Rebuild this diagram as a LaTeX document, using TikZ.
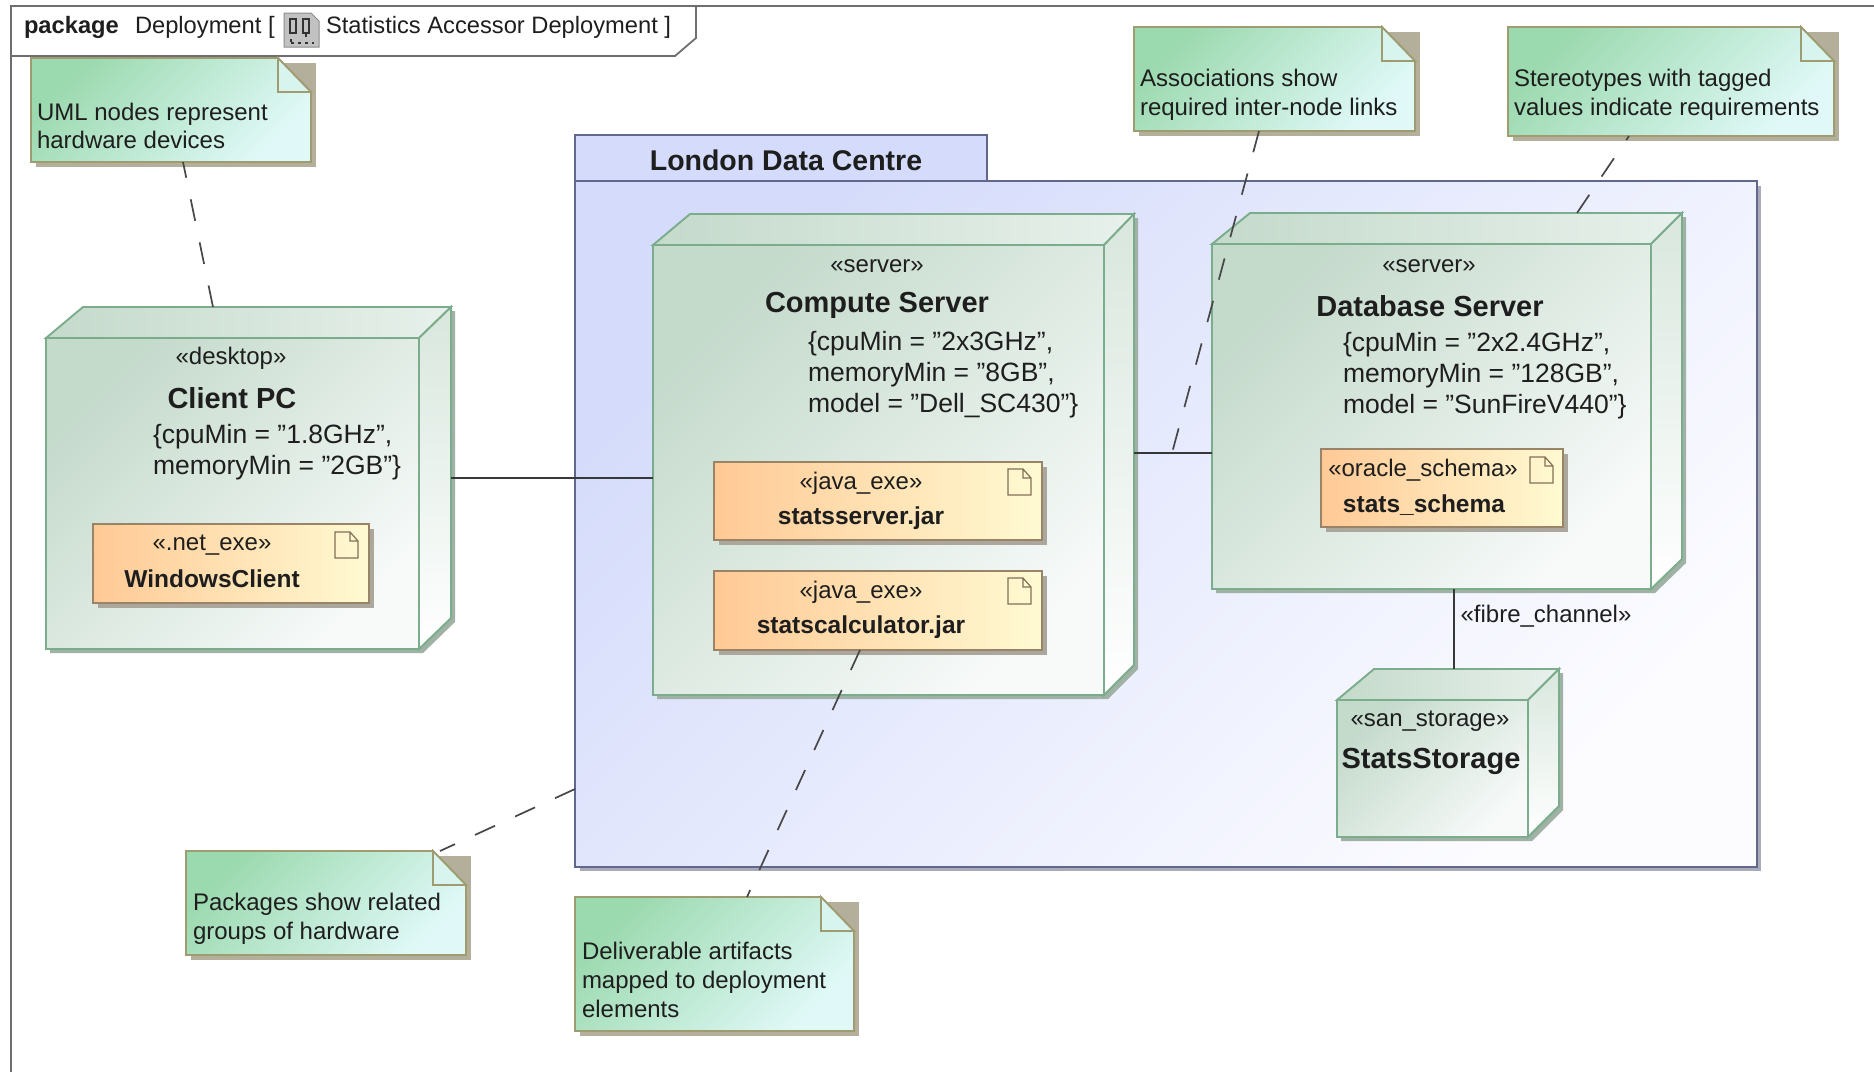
\documentclass[tikz,border=0pt]{standalone}
\usepackage{fontspec}
\setmainfont{Liberation Sans}
\usetikzlibrary{fit}
\definecolor{noteA}{HTML}{9BD9AE}
\definecolor{noteB}{HTML}{E0F9F8}
\definecolor{noteFold}{HTML}{D8F4EF}
\definecolor{noteLine}{HTML}{A09C72}
\definecolor{noteShadow}{HTML}{B4AF9A}
\definecolor{devA}{HTML}{C4DACB}
\definecolor{devB}{HTML}{F7FAF9}
\definecolor{devLine}{HTML}{7BAC8B}
\definecolor{devShadow}{HTML}{9FB2A5}
\definecolor{artA}{HTML}{FFC995}
\definecolor{artB}{HTML}{FFFAD2}
\definecolor{artLine}{HTML}{9A8468}
\definecolor{artShadow}{HTML}{ACA79C}
\definecolor{pkgA}{HTML}{D5DCFB}
\definecolor{pkgB}{HTML}{FCFCFF}
\definecolor{pkgLine}{HTML}{62688C}
\definecolor{pkgShadow}{HTML}{A9ABBB}
\definecolor{frameLine}{HTML}{6E6E6E}
\definecolor{inkC}{HTML}{1E1E1E}
\tikzset{
  framestroke/.style={draw=frameLine,line width=1.8pt},
  assoc/.style={draw=black!78,line width=1.7pt},
  anchorline/.style={draw=black!72,line width=1.7pt,dash pattern=on 22pt off 22pt},
  lbl/.style={inner sep=0pt,outer sep=0pt,text=inkC,align=left},
  notetext/.style={lbl,anchor=west,font=\fontsize{24}{28.6}\selectfont},
  stereo/.style={lbl,font=\fontsize{24}{28}\selectfont},
  tagged/.style={lbl,anchor=west,font=\fontsize{26.5}{31}\selectfont},
  title/.style={lbl,font=\bfseries\fontsize{29}{32}\selectfont},
  artname/.style={lbl,font=\bfseries\fontsize{24.5}{28}\selectfont},
  diag/.style 2 args={top color=#1,bottom color=#2,shading angle=45},
  box/.style={inner sep=0pt,outer sep=0pt,draw=none,fill=none},
}
% name, x1,y1,x2,y2
\newcommand{\notebox}[5]{%
  \fill[noteShadow] (#2+5,#3+5) rectangle (#4+5,#5+5);
  \path[draw=noteLine,line width=1.8pt,diag={noteA}{noteB}]
    (#2,#3) -- (#4-33,#3) -- (#4,#3+34) -- (#4,#5) -- (#2,#5) -- cycle;
  \path[draw=noteLine,line width=1.8pt,fill=noteFold]
    (#4-33,#3) -- (#4-33,#3+34) -- (#4,#3+34) -- cycle;
  \node[box,fit={(#2,#3) (#4,#5)}] (#1) {};
}
% name, front x1,y1,x2,y2, back xleft, ytop, xright, ybottom
\newcommand{\devbox}[9]{%
  \fill[devShadow] (#6+4,#7+4) -- (#8+4,#7+4) -- (#8+4,#9+4) -- (#4+4,#5+4) -- (#2+4,#5+4) -- (#2+4,#3+4) -- cycle;
  \path[draw=devLine,line width=1.9pt,left color=devA,right color=devB!70!devA]
    (#2,#3) -- (#6,#7) -- (#8,#7) -- (#4,#3) -- cycle;
  \path[draw=devLine,line width=1.9pt,top color=devA!60!devB,bottom color=white]
    (#4,#3) -- (#8,#7) -- (#8,#9) -- (#4,#5) -- cycle;
  \path[draw=devLine,line width=1.9pt,diag={devA}{devB}]
    (#2,#3) rectangle (#4,#5);
  \node[box,fit={(#2,#7) (#8,#5)}] (#1) {};
}
% name, x1,y1,x2,y2, icon left, icon top
\newcommand{\artbox}[7]{%
  \fill[artShadow] (#2+5,#3+5) rectangle (#4+5,#5+5);
  \path[draw=artLine,line width=1.7pt,left color=artA,right color=artB]
    (#2,#3) rectangle (#4,#5);
  \draw[draw=artLine!85!black,line width=1.2pt]
    (#6,#7) -- (#6+15,#7) -- (#6+23,#7+9) -- (#6+23,#7+26) -- (#6,#7+26) -- cycle
    (#6+15,#7) -- (#6+15,#7+9) -- (#6+23,#7+9);
  \node[box,fit={(#2,#3) (#4,#5)}] (#1) {};
}
\begin{document}
\begin{tikzpicture}[x=1pt,y=-1pt]
\useasboundingbox (0,0) rectangle (1874,1072);
\fill[white] (0,0) rectangle (1874,1072);
% frame
\draw[framestroke] (1874,6) -- (11,6) -- (11,1072);
\draw[framestroke] (11,56) -- (675,56) -- (696,38) -- (696,6);
\node[lbl,anchor=west,font=\bfseries\fontsize{23.7}{26}\selectfont] (fkw) at (24,27) {package};
\node[lbl,anchor=west,font=\fontsize{23.7}{26}\selectfont] (fkind) at (135,27) {Deployment [};
\node[lbl,anchor=west,font=\fontsize{23.7}{26}\selectfont] (fname) at (326,27) {Statistics Accessor Deployment ]};
% frame icon
\path[fill=black!24,draw=black!45,line width=1pt] (284,13) -- (311,13) -- (319,21) -- (319,47) -- (284,47) -- cycle;
\draw[black!80,line width=1.6pt] (290,19) rectangle (296,33) (303,19) rectangle (309,33) (306,33) -- (306,37);
\draw[black!80,line width=1.6pt,dash pattern=on 3pt off 4pt] (291,43) -- (314,43) (291,39) -- (291,43);
% package
\fill[pkgShadow] (580,186) rectangle (1761,871);
\path[draw=pkgLine,line width=1.8pt,fill=pkgA] (575,181) -- (575,135) -- (987,135) -- (987,181);
\path[draw=pkgLine,line width=1.8pt,diag={pkgA}{pkgB}] (575,181) rectangle (1757,867);
\node[box,fit={(575,135) (1757,867)}] (london) {};
\node[title,font=\bfseries\fontsize{28.5}{32}\selectfont] (londont) at (786,160) {London Data Centre};
% devices
\devbox{client}{46}{338}{419}{649}{83}{307}{451}{618}
\devbox{compute}{653}{245}{1104}{695}{690}{214}{1134}{665}
\devbox{database}{1212}{244}{1651}{589}{1250}{213}{1682}{559}
\devbox{storage}{1337}{700}{1528}{837}{1374}{669}{1559}{806}
% artifacts
\artbox{winclient}{93}{524}{369}{603}{335}{532}
\artbox{statsserver}{714}{462}{1042}{540}{1008}{469}
\artbox{statscalc}{714}{571}{1042}{650}{1008}{578}
\artbox{schema}{1321}{449}{1563}{527}{1530}{457}
% device texts
\node[stereo] (clients) at (231,358) {«desktop»};
\node[title] (clientt) at (232,398) {Client PC};
\node[tagged] (clientv) at (153,452.5) {\{cpuMin = "1.8GHz",\\memoryMin = "2GB"\}};
\node[stereo] (wins) at (212,545) {«.net\_exe»};
\node[artname] (wint) at (212,579) {WindowsClient};
\node[stereo] (computes) at (877,266) {«server»};
\node[title] (computet) at (877,305) {Compute Server};
\node[tagged] (computev) at (808,374.5) {\{cpuMin = "2x3GHz",\\memoryMin = "8GB",\\model = "Dell\_SC430"\}};
\node[stereo] (sss) at (861,483) {«java\_exe»};
\node[artname] (sst) at (861,518) {statsserver.jar};
\node[stereo] (scs) at (861,592) {«java\_exe»};
\node[artname] (sct) at (861,627) {statscalculator.jar};
\node[stereo] (dbs) at (1429,266) {«server»};
\node[title] (dbt) at (1430,306) {Database Server};
\node[tagged] (dbv) at (1343,375.5) {\{cpuMin = "2x2.4GHz",\\memoryMin = "128GB",\\model = "SunFireV440"\}};
\node[stereo] (schs) at (1423,470) {«oracle\_schema»};
\node[artname] (scht) at (1424,505) {stats\_schema};
\node[stereo] (sts) at (1430,721) {«san\_storage»};
\node[title] (stt) at (1431,761) {StatsStorage};
% notes
\notebox{noteuml}{31}{58}{311}{162}
\notebox{notepkg}{186}{851}{466}{955}
\notebox{notedel}{575}{897}{854}{1031}
\notebox{noteassoc}{1134}{27}{1415}{131}
\notebox{notestereo}{1508}{27}{1834}{136}
\node[notetext] (nt1) at (37,126) {UML nodes represent\\hardware devices};
\node[notetext] (nt2) at (193,918.5) {Packages show related\\groups of hardware};
\node[notetext] (nt3) at (582,980) {Deliverable artifacts\\mapped to deployment\\elements};
\node[notetext] (nt4) at (1140,95) {Associations show\\required inter-node links};
\node[notetext] (nt5) at (1514,95) {Stereotypes with tagged\\values indicate requirements};
% associations
\coordinate (linkA) at (0,478);
\coordinate (linkB) at (0,453);
\coordinate (linkC) at (1454,0);
\coordinate (linkAmid) at (1172,453);
\draw[assoc] (client.east |- linkA) -- (compute.west |- linkA);
\draw[assoc] (compute.east |- linkB) -- (database.west |- linkB);
\draw[assoc] (database.south -| linkC) -- (storage.north -| linkC);
\node[stereo] (fibre) at (1546,616) {«fibre\_channel»};
% anchors (dashed)
\coordinate (d1a) at (213,0);
\coordinate (d1b) at (183,0);
\coordinate (d2a) at (0,789);
\coordinate (d2b) at (440,0);
\coordinate (d3a) at (860,0);
\coordinate (d3b) at (747,0);
\coordinate (d4a) at (1259,0);
\coordinate (d5a) at (1577,0);
\coordinate (d5b) at (1629,0);
\draw[anchorline] (client.north -| d1a) -- (noteuml.south -| d1b);
\draw[anchorline] (london.west |- d2a) -- (notepkg.north -| d2b);
\draw[anchorline] (statscalc.south -| d3a) -- (notedel.north -| d3b);
\draw[anchorline] (noteassoc.south -| d4a) -- (linkAmid);
\draw[anchorline] (database.north -| d5a) -- (notestereo.south -| d5b);
\end{tikzpicture}
\end{document}
